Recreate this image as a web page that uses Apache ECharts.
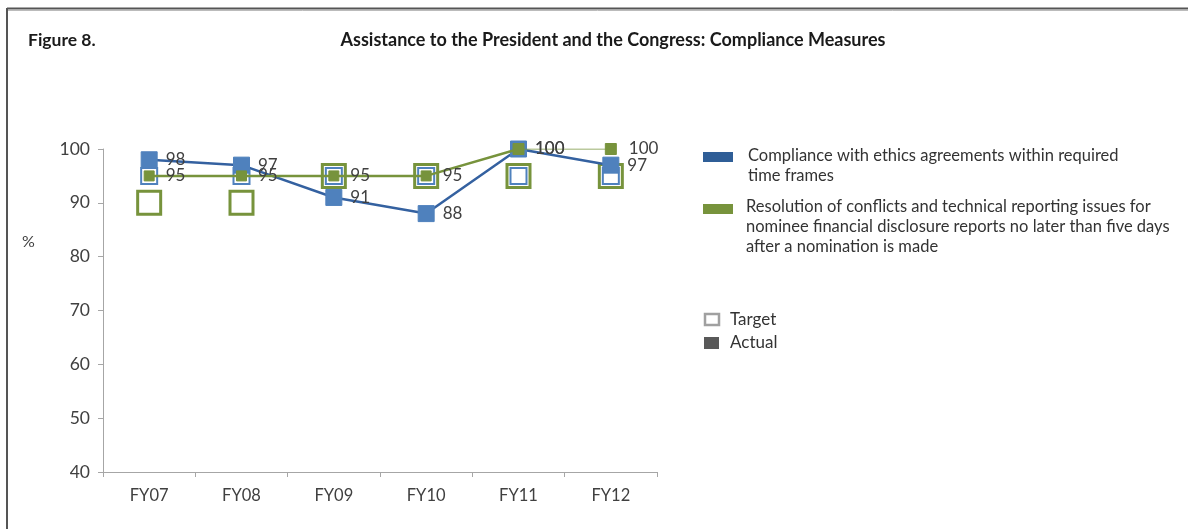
<!DOCTYPE html>
<html>
<head>
<meta charset="utf-8">
<script src="https://cdn.jsdelivr.net/npm/echarts@6/dist/echarts.min.js"></script>
<style>
html,body{margin:0;padding:0;background:#fff;}
#chart{width:1188px;height:529px;}
</style>
</head>
<body>
<div id="chart"></div>
<script>
const categories = ['FY07', 'FY08', 'FY09', 'FY10', 'FY11', 'FY12'];
const complianceActual = [98, 97, 91, 88, 100, 97];
const complianceTarget = [95, 95, 95, 95, 95, 95];
const resolutionActual = [95, 95, 95, 95, 100, 100];
const resolutionTarget = [90, 90, 95, 95, 95, 95];
const yTicks = [40, 50, 60, 70, 80, 90, 100];
const seriesNames = [
  'Compliance with ethics agreements within required\ntime frames',
  'Resolution of conflicts and technical reporting issues for\nnominee financial disclosure reports no later than five days\nafter a nomination is made'
];
const titleText = 'Assistance to the President and the Congress: Compliance Measures';
const figureText = 'Figure 8.';

const FONT = 'Lato, "Open Sans", sans-serif';
const BLUE_LINE = '#3461A0';
const BLUE_MARK = '#4F81BD';
const GREEN = '#77933C';
const TXT = '#404040';

// split the green actual line: thick segment up to FY11, thin final segment
const lastIdx = resolutionActual.length - 1;
const greenMain = resolutionActual.map((v, i) => i < lastIdx ? v : null);
const greenTail = resolutionActual.map((v, i) => i >= lastIdx - 1 ? v : null);

const chart = echarts.init(document.getElementById('chart'), null, {renderer: 'canvas'});
chart.setOption({
  animation: false,
  backgroundColor: '#fff',
  textStyle: {fontFamily: FONT},
  grid: {left: 103, right: 531, top: 149, bottom: 57, containLabel: false},
  xAxis: {
    type: 'category',
    data: categories,
    boundaryGap: true,
    axisLine: {lineStyle: {color: '#A6A6A6', width: 1}},
    axisTick: {show: true, length: 5, lineStyle: {color: '#A6A6A6'}},
    axisLabel: {color: TXT, fontSize: 16.5, margin: 15, fontFamily: FONT}
  },
  yAxis: {
    type: 'value',
    min: yTicks[0], max: yTicks[yTicks.length - 1], interval: 10,
    axisLine: {show: true, lineStyle: {color: '#A6A6A6', width: 1}},
    axisTick: {show: true, length: 5, lineStyle: {color: '#A6A6A6'}},
    axisLabel: {color: TXT, fontSize: 17.5, margin: 13, fontFamily: FONT},
    splitLine: {show: false}
  },
  series: [
    {
      name: 'Resolution target', type: 'scatter', data: resolutionTarget,
      symbol: 'rect', symbolSize: 23, z: 2,
      itemStyle: {color: '#fff', borderColor: GREEN, borderWidth: 3, opacity: 1}
    },
    {
      name: 'Compliance target', type: 'scatter', data: complianceTarget,
      symbol: 'rect', symbolSize: 16, z: 3,
      itemStyle: {color: '#fff', borderColor: BLUE_MARK, borderWidth: 2, opacity: 1}
    },
    {
      name: 'Compliance actual', type: 'line', data: complianceActual,
      symbol: 'rect', symbolSize: 16, z: 4,
      lineStyle: {color: BLUE_LINE, width: 2.5},
      itemStyle: {color: BLUE_MARK, borderColor: BLUE_MARK},
      label: {show: true, position: 'right', distance: 8, color: TXT, fontSize: 17, fontFamily: FONT}
    },
    {
      name: 'Resolution actual', type: 'line', data: greenMain,
      symbol: 'rect', symbolSize: 10, z: 5, connectNulls: false,
      lineStyle: {color: GREEN, width: 2.5},
      itemStyle: {color: GREEN, borderColor: GREEN},
      label: {show: true, position: 'right', distance: 11, color: TXT, fontSize: 17, fontFamily: FONT}
    },
    {
      name: 'Resolution actual tail', type: 'line', data: greenTail,
      symbol: 'rect', symbolSize: 11, z: 5,
      lineStyle: {color: GREEN, width: 1.2},
      itemStyle: {color: GREEN, borderColor: GREEN},
      label: {show: true, position: 'right', distance: 12, color: TXT, fontSize: 17, fontFamily: FONT,
        formatter: p => p.dataIndex === lastIdx ? String(p.value) : ''}
    }
  ],
  graphic: [
    // frame lines
    {type: 'line', shape: {x1: 7, y1: 8.5, x2: 1188, y2: 8.5}, style: {stroke: '#555', lineWidth: 2}},
    {type: 'line', shape: {x1: 7, y1: 10.5, x2: 1188, y2: 10.5}, style: {stroke: '#bbb', lineWidth: 1}},
    {type: 'line', shape: {x1: 7, y1: 8, x2: 7, y2: 529}, style: {stroke: '#555', lineWidth: 2}},
    // titles
    {type: 'text', x: 28, y: 40, style: {text: figureText, font: 'bold 17.5px ' + FONT, fill: '#1a1a1a', verticalAlign: 'middle'}},
    {type: 'text', x: 613, y: 40, style: {text: titleText, font: 'bold 18px ' + FONT, fill: '#1a1a1a', align: 'center', verticalAlign: 'middle'}},
    // % axis label
    {type: 'text', x: 22, y: 242, style: {text: '%', font: '16px ' + FONT, fill: TXT, verticalAlign: 'middle'}},
    // legend series
    {type: 'rect', shape: {x: 703, y: 152, width: 30, height: 10}, style: {fill: '#2F5E97'}},
    {type: 'text', x: 748, y: 146, style: {text: seriesNames[0], font: '16.5px ' + FONT, fill: '#333', lineHeight: 19.5, verticalAlign: 'top'}},
    {type: 'rect', shape: {x: 703, y: 204, width: 30, height: 10}, style: {fill: GREEN}},
    {type: 'text', x: 746, y: 197, style: {text: seriesNames[1], font: '16.5px ' + FONT, fill: '#333', lineHeight: 19.8, verticalAlign: 'top'}},
    // legend marker types
    {type: 'rect', shape: {x: 705, y: 314, width: 14, height: 11}, style: {fill: '#fff', stroke: '#A0A0A0', lineWidth: 2.5}},
    {type: 'text', x: 730, y: 320, style: {text: 'Target', font: '17px ' + FONT, fill: '#333', verticalAlign: 'middle'}},
    {type: 'rect', shape: {x: 704, y: 337, width: 15, height: 12}, style: {fill: '#595959'}},
    {type: 'text', x: 730, y: 343, style: {text: 'Actual', font: '17px ' + FONT, fill: '#333', verticalAlign: 'middle'}}
  ]
});
</script>
</body>
</html>
